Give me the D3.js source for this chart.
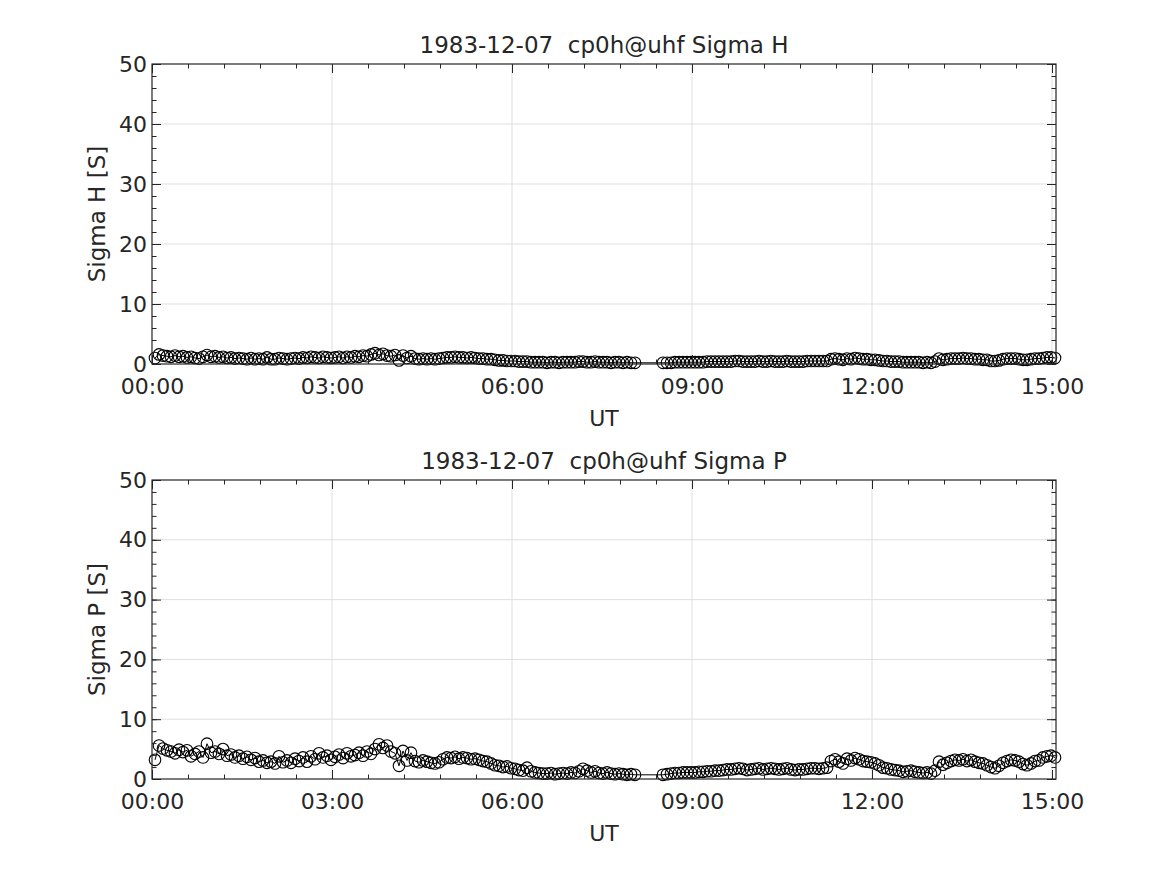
<!DOCTYPE html>
<html>
<head>
<meta charset="utf-8">
<script src="https://cdn.jsdelivr.net/npm/d3@7"></script>
<style>
  body { margin: 0; background: #fff; }
  text { font-family: "DejaVu Sans", sans-serif; fill: #262626; }
</style>
</head>
<body>
<svg id="fig" width="1167" height="875"></svg>
<script>
// sampling grid: each segment starts at a minute of day, 4 min cadence
const segStartMinutes = [3, 511];
const stepMinutes = 4;

const xTickMinutes = [0, 180, 360, 540, 720, 900];
const yTicks = [0, 10, 20, 30, 40, 50];

// Sigma H [S], 00:03 - 08:03
const sigmaH1 = [
  1.0, 1.6, 1.4, 1.3, 1.2, 1.4, 1.2, 1.3, 1.1, 1.2, 1.0, 0.9, 1.2, 1.5, 1.2,
  1.3, 1.1, 1.2, 1.0, 1.1, 0.9, 1.0, 0.9, 0.8, 1.0, 0.8, 0.9, 0.8, 1.1, 0.8,
  0.8, 1.0, 0.9, 0.8, 0.9, 1.0, 0.9, 1.1, 1.0, 1.2, 1.1, 1.0, 1.2, 1.1, 1.0,
  1.1, 1.2, 1.0, 1.2, 1.1, 1.3, 1.2, 1.4, 1.3, 1.6, 1.8, 1.5, 1.7, 1.4, 1.3,
  1.5, 0.6, 1.4, 1.0, 1.3, 0.9, 0.8, 0.9, 0.8, 0.9, 0.8, 0.9, 1.0, 1.1, 1.1,
  1.2, 1.1, 1.1, 1.0, 1.1, 1.0, 0.9, 0.9, 0.8, 0.8, 0.7, 0.6, 0.6, 0.5, 0.5,
  0.5, 0.4, 0.4, 0.4, 0.3, 0.3, 0.3, 0.3, 0.2, 0.3, 0.3, 0.2, 0.3, 0.3, 0.3,
  0.3, 0.4, 0.4, 0.3, 0.3, 0.4, 0.3, 0.3, 0.3, 0.2, 0.3, 0.3, 0.2, 0.3, 0.2,
  0.2
];
// Sigma H [S], 08:31 - 15:03
const sigmaH2 = [
  0.2, 0.2, 0.2, 0.3, 0.3, 0.3, 0.3, 0.3,
  0.3, 0.3, 0.3, 0.4, 0.4, 0.4, 0.4, 0.4, 0.4, 0.4, 0.5, 0.5, 0.4, 0.4, 0.4,
  0.4, 0.5, 0.4, 0.4, 0.5, 0.4, 0.4, 0.4, 0.5, 0.4, 0.4, 0.4, 0.4, 0.5, 0.5,
  0.5, 0.5, 0.5, 0.5, 0.8, 0.9, 0.8, 0.7, 0.9, 0.8, 1.0, 0.9, 0.8, 0.8, 0.7,
  0.7, 0.6, 0.5, 0.5, 0.4, 0.4, 0.4, 0.3, 0.3, 0.3, 0.3, 0.3, 0.2, 0.3, 0.2,
  0.4, 0.9, 0.7, 0.8, 0.9, 0.9, 0.9, 1.0, 0.9, 0.9, 0.8, 0.8, 0.7, 0.7, 0.5,
  0.5, 0.6, 0.8, 0.9, 0.9, 0.9, 0.8, 0.7, 0.7, 0.8, 0.9, 0.9, 1.0, 1.1, 1.1,
  1.0
];

// Sigma P [S], 00:03 - 08:03
const sigmaP1 = [
  3.2, 5.6, 5.1, 4.8, 4.6, 4.3, 4.9, 4.5, 4.8, 3.8, 4.2, 4.6, 3.6, 5.9, 4.4,
  4.6, 4.2, 5.0, 3.9, 4.1, 3.6, 3.9, 3.4, 3.7, 3.2, 3.5, 2.9, 3.1, 2.7, 2.9,
  2.6, 3.8, 2.8, 3.1, 2.7, 3.4, 3.0, 3.6, 2.9, 3.8, 3.3, 4.3, 3.6, 3.9, 3.2,
  3.7, 4.1, 3.5, 4.3, 3.8, 4.0, 4.4, 3.9, 4.6, 4.2, 5.0, 5.8, 5.2, 5.6, 4.6,
  4.3, 2.2, 4.7, 3.1, 4.4, 3.0, 2.8, 3.1, 2.9, 2.7, 2.6, 2.8, 3.3, 3.6, 3.5,
  3.7, 3.4, 3.6, 3.5, 3.3, 3.4, 3.2, 3.0, 2.9, 2.6, 2.3, 2.2, 2.0, 2.1, 1.8,
  1.7, 1.5, 1.4, 1.9, 1.3, 1.1, 1.0, 0.9, 0.9, 1.0, 0.8, 0.9, 1.0, 0.9, 1.1,
  1.0, 1.3, 1.7, 1.4, 1.1, 1.3, 1.0, 0.9, 1.1, 0.9, 0.8, 0.9, 0.8, 0.7, 0.8,
  0.7
];
// Sigma P [S], 08:31 - 15:03
const sigmaP2 = [
  0.7, 0.8, 0.9, 1.0, 1.0, 1.1, 1.1, 1.1,
  1.1, 1.2, 1.2, 1.3, 1.3, 1.4, 1.4, 1.5, 1.6, 1.6, 1.7, 1.8, 1.7, 1.5, 1.6,
  1.7, 1.8, 1.6, 1.7, 1.8, 1.7, 1.6, 1.7, 1.8, 1.6, 1.5, 1.6, 1.6, 1.7, 1.8,
  1.8, 1.7, 1.8, 1.9, 3.0, 3.3, 2.9, 2.6, 3.4, 3.1, 3.5, 3.3, 3.0, 2.9, 2.8,
  2.6, 2.3, 1.9, 1.8, 1.6, 1.5, 1.4, 1.2, 1.3, 1.4, 1.2, 1.1, 1.0, 1.1, 0.9,
  1.4, 2.9, 2.4, 2.7, 3.0, 3.2, 3.1, 3.3, 3.0, 3.2, 2.9, 2.7, 2.6, 2.3, 2.0,
  1.8, 2.2, 2.7, 3.0, 3.2, 3.1, 2.9, 2.5, 2.3, 2.6, 3.0, 3.1, 3.6, 3.8, 3.9,
  3.6
];

const panels = [
  { top: 64, bottom: 364, title: '1983-12-07  cp0h@uhf Sigma H', ylabel: 'Sigma H [S]', segs: [sigmaH1, sigmaH2] },
  { top: 480, bottom: 779, title: '1983-12-07  cp0h@uhf Sigma P', ylabel: 'Sigma P [S]', segs: [sigmaP1, sigmaP2] }
];

const left = 152, right = 1056;
const axisColor = '#262626', gridColor = '#dfdfdf';
const svg = d3.select('#fig');

function toPoints(segs) {
  let pts = [];
  segs.forEach((vals, s) => {
    vals.forEach((v, i) => pts.push({ t: segStartMinutes[s] + i * stepMinutes, v: v }));
  });
  return pts;
}

function fmtTime(m) {
  return d3.format('02')(Math.floor(m / 60)) + ':' + d3.format('02')(m % 60);
}

panels.forEach(p => {
  const x = d3.scaleLinear().domain([0, 904]).range([left, right]);
  const y = d3.scaleLinear().domain([0, 50]).range([p.bottom, p.top]);
  const h = p.bottom - p.top;
  const g = svg.append('g');

  // grid
  g.append('g').selectAll('line')
    .data(xTickMinutes.filter(d => d > 0 && d < 904))
    .enter().append('line')
    .attr('x1', d => x(d)).attr('x2', d => x(d))
    .attr('y1', p.top).attr('y2', p.bottom)
    .attr('stroke', gridColor).attr('stroke-width', 1);
  g.append('g').selectAll('line')
    .data(yTicks.filter(d => d > 0 && d < 50))
    .enter().append('line')
    .attr('x1', left).attr('x2', right)
    .attr('y1', d => y(d)).attr('y2', d => y(d))
    .attr('stroke', gridColor).attr('stroke-width', 1);

  // data
  const pts = toPoints(p.segs);
  g.append('path')
    .datum(pts)
    .attr('fill', 'none')
    .attr('stroke', '#000')
    .attr('stroke-width', 1)
    .attr('d', d3.line().x(d => x(d.t)).y(d => y(d.v)));
  g.append('g').selectAll('circle')
    .data(pts)
    .enter().append('circle')
    .attr('cx', d => x(d.t))
    .attr('cy', d => y(d.v))
    .attr('r', 5.8)
    .attr('fill', 'none')
    .attr('stroke', '#000')
    .attr('stroke-width', 1.1);

  // axes, ticks pointing inward
  const xMinor = d3.range(0, 905, 36);
  const yMinor = d3.range(0, 51, 2);
  const styleAxis = sel => {
    sel.select('.domain').remove();
    sel.selectAll('line').attr('stroke', axisColor);
    sel.selectAll('text').style('font-size', '22px').attr('fill', axisColor);
  };

  g.append('g').attr('transform', `translate(0,${p.bottom})`)
    .call(d3.axisBottom(x).tickValues(xTickMinutes).tickSize(-9).tickPadding(14).tickFormat(fmtTime))
    .call(styleAxis);
  g.append('g').attr('transform', `translate(0,${p.bottom})`)
    .call(d3.axisBottom(x).tickValues(xMinor).tickSize(-4.5).tickFormat(''))
    .call(styleAxis);
  g.append('g').attr('transform', `translate(0,${p.top})`)
    .call(d3.axisTop(x).tickValues(xTickMinutes).tickSize(-9).tickFormat(''))
    .call(styleAxis);
  g.append('g').attr('transform', `translate(0,${p.top})`)
    .call(d3.axisTop(x).tickValues(xMinor).tickSize(-4.5).tickFormat(''))
    .call(styleAxis);

  g.append('g').attr('transform', `translate(${left},0)`)
    .call(d3.axisLeft(y).tickValues(yTicks).tickSize(-9).tickPadding(5))
    .call(styleAxis);
  g.append('g').attr('transform', `translate(${left},0)`)
    .call(d3.axisLeft(y).tickValues(yMinor).tickSize(-4.5).tickFormat(''))
    .call(styleAxis);
  g.append('g').attr('transform', `translate(${right},0)`)
    .call(d3.axisRight(y).tickValues(yTicks).tickSize(-9).tickFormat(''))
    .call(styleAxis);
  g.append('g').attr('transform', `translate(${right},0)`)
    .call(d3.axisRight(y).tickValues(yMinor).tickSize(-4.5).tickFormat(''))
    .call(styleAxis);

  // box
  g.append('rect')
    .attr('x', left).attr('y', p.top)
    .attr('width', right - left).attr('height', h)
    .attr('fill', 'none').attr('stroke', axisColor).attr('stroke-width', 1.2);

  // title and labels
  g.append('text')
    .attr('x', (left + right) / 2).attr('y', p.top - 11)
    .attr('text-anchor', 'middle')
    .style('font-size', '23px')
    .style('white-space', 'pre')
    .text(p.title);
  g.append('text')
    .attr('x', (left + right) / 2).attr('y', p.bottom + 62)
    .attr('text-anchor', 'middle')
    .style('font-size', '22px')
    .text('UT');
  g.append('text')
    .attr('transform', `translate(105,${(p.top + p.bottom) / 2}) rotate(-90)`)
    .attr('text-anchor', 'middle')
    .style('font-size', '23px')
    .text(p.ylabel);
});
</script>
</body>
</html>
